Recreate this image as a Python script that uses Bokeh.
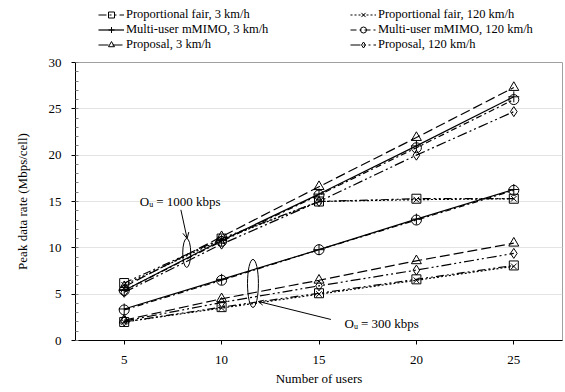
from bokeh.plotting import figure
from bokeh.layouts import column
from bokeh.models import Legend, LegendItem, Label, Arrow, OpenHead, Range1d, SingleIntervalTicker, FixedTicker
from bokeh.embed import file_html
from bokeh.resources import INLINE

users = [5, 10, 15, 20, 25]

# O_u = 1000 kbps
pf3_1000 = [6.2, 11.0, 15.0, 15.3, 15.3]
pf120_1000 = [6.0, 10.9, 15.0, 15.2, 15.3]
mu3_1000 = [5.4, 10.8, 15.8, 21.0, 26.3]
mu120_1000 = [5.4, 10.7, 15.7, 20.8, 26.0]
prop3_1000 = [5.8, 11.2, 16.6, 21.9, 27.3]
prop120_1000 = [5.2, 10.4, 15.0, 20.0, 24.7]

# O_u = 300 kbps
pf3_300 = [2.0, 3.6, 5.1, 6.6, 8.1]
pf120_300 = [2.0, 3.5, 5.0, 6.5, 8.0]
mu3_300 = [3.4, 6.6, 9.8, 13.1, 16.3]
mu120_300 = [3.3, 6.5, 9.8, 13.0, 16.2]
prop3_300 = [2.2, 4.5, 6.5, 8.6, 10.5]
prop120_300 = [2.1, 4.1, 5.9, 7.6, 9.4]

labels = ["Proportional fair, 3 km/h", "Multi-user mMIMO, 3 km/h", "Proposal, 3 km/h",
          "Proportional fair, 120 km/h", "Multi-user mMIMO, 120 km/h", "Proposal, 120 km/h"]

FONT = "Liberation Serif"

p = figure(width=565, height=337, output_backend="svg", toolbar_location=None,
           x_range=Range1d(2.5, 27.5), y_range=Range1d(0, 30),
           min_border_left=75, min_border_right=3, min_border_top=7, min_border_bottom=52)

p.outline_line_color = "#a0a0a0"
p.xgrid.visible = False
p.ygrid.grid_line_color = "#e3e3e3"
p.yaxis.ticker = SingleIntervalTicker(interval=5, num_minor_ticks=5)
p.xaxis.ticker = FixedTicker(ticks=users)
for ax in (p.xaxis, p.yaxis):
    ax.axis_line_color = "black"
    ax.major_tick_line_color = "black"
    ax.major_tick_out = 4
    ax.major_tick_in = 0
    ax.major_label_text_font = FONT
    ax.major_label_text_font_size = "13px"
    ax.major_label_text_color = "black"
    ax.axis_label_text_font = FONT
    ax.axis_label_text_font_size = "13px"
    ax.axis_label_text_font_style = "normal"
    ax.axis_label_text_color = "black"
p.yaxis.minor_tick_in = 3
p.yaxis.minor_tick_out = 0
p.yaxis.minor_tick_line_color = "#808080"
p.xaxis.minor_tick_line_color = None
p.yaxis.major_label_standoff = 10
p.xaxis.major_label_standoff = 11
p.yaxis.axis_label = "Peak data rate (Mbps/cell)"
p.xaxis.axis_label = "Number of users"
p.yaxis.axis_label_standoff = 16
p.xaxis.axis_label_standoff = 4

series = [
    (pf3_1000, pf3_300, "square", "8 3 2 3 2 3", 9),
    (mu3_1000, mu3_300, "cross", "solid", 11),
    (prop3_1000, prop3_300, "triangle", "10 4", 10),
    (pf120_1000, pf120_300, "x", "2 2", 8),
    (mu120_1000, mu120_300, "circle", "6 3 2 3", 10),
    (prop120_1000, prop120_300, "diamond", "10 3 2 3 2 3", 10),
]

# legend strip above the chart
lg = figure(width=565, height=55, output_backend="svg", toolbar_location=None,
            x_range=Range1d(0, 1), y_range=Range1d(0, 1),
            min_border_left=0, min_border_right=0, min_border_top=0, min_border_bottom=0)
lg.axis.visible = False
lg.grid.visible = False
lg.outline_line_color = None

items = []
for (hi, lo, marker, dash, size), lab in zip(series, labels):
    for ys in (hi, lo):
        p.line(users, ys, line_color="black", line_width=1.2, line_dash=dash)
        p.scatter(users, ys, marker=marker, size=size, fill_color=None,
                  line_color="black", line_width=1)
    # off-range placeholder renderers: only their legend icons are visible
    ln = lg.line([-5], [-5], line_color="black", line_width=1.2, line_dash=dash)
    sc = lg.scatter([-5], [-5], marker=marker, size=size, fill_color=None,
                    line_color="black", line_width=1)
    items.append(LegendItem(label=lab, renderers=[ln, sc]))

def mk_legend(its, x, y):
    return Legend(items=its, location=(x, y), orientation="vertical",
                  border_line_color=None, background_fill_alpha=0,
                  padding=0, spacing=0, margin=0, glyph_width=26, glyph_height=15,
                  label_height=15, label_standoff=2, label_text_font=FONT,
                  label_text_font_size="12.5px", label_text_color="black")

lg.add_layout(mk_legend(items[:3], 23, 3))
lg.add_layout(mk_legend(items[3:], 275, 3))

# annotations
ell_x = [8.21, 11.61]
ell_y = [9.45, 6.16]
ell_w = [0.41, 0.56]
ell_h = [3.13, 5.18]
p.ellipse(x=ell_x, y=ell_y, width=ell_w, height=ell_h, fill_color=None,
          line_color="black", line_width=1)

p.add_layout(Arrow(end=OpenHead(size=6, line_color="black", line_width=1),
                   x_start=7.91, y_start=14.1, x_end=8.23, y_end=11.0, line_width=1))
p.add_layout(Arrow(end=OpenHead(size=5, line_color="black", line_width=1),
                   x_start=15.61, y_start=2.27, x_end=11.89, y_end=4.21, line_width=1))

def ou_label(x, y, rest):
    p.add_layout(Label(x=x, y=y, text="O", text_font=FONT, text_font_size="13px",
                       text_color="black", text_baseline="alphabetic",
                       background_fill_color="white"))
    p.add_layout(Label(x=x, y=y, x_offset=9.5, y_offset=-3, text="u", text_font=FONT,
                       text_font_size="8px", text_color="black", text_baseline="alphabetic"))
    p.add_layout(Label(x=x, y=y, x_offset=16.5, text=rest, text_font=FONT,
                       text_font_size="13px", text_color="black", text_baseline="alphabetic",
                       background_fill_color="white"))

ou_label(5.80, 15.04, "= 1000 kbps")
ou_label(16.31, 1.87, "= 300 kbps")

layout = column(lg, p, spacing=0)
open("out.html", "w").write(file_html(layout, INLINE))
